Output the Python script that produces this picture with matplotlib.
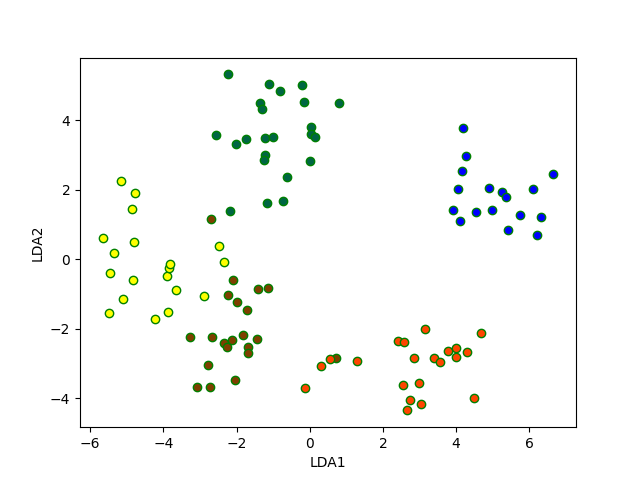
import matplotlib
matplotlib.use('Agg')
import matplotlib.pyplot as plt

# LDA projections, one list pair per class
yellow_x = [-5.16, -4.78, -4.86, -5.66, -4.80, -5.36, -5.45, -4.83, -5.09, -5.47,
            -4.24, -3.87, -3.64, -2.88, -3.89, -3.85, -3.81, -2.48, -2.34]
yellow_y = [2.25, 1.90, 1.45, 0.60, 0.50, 0.18, -0.39, -0.60, -1.14, -1.55,
            -1.73, -1.52, -0.89, -1.06, -0.47, -0.24, -0.14, 0.37, -0.09]

dgreen_x = [-2.24, -1.11, -0.80, -0.21, -0.16, 0.81, -1.35, -1.29, -2.55, -2.01,
            -1.73, -1.22, -1.00, 0.03, 0.03, 0.14, -1.22, -1.24, 0.01, -0.62,
            -1.16, -0.73, -2.18]
dgreen_y = [5.32, 5.03, 4.84, 5.02, 4.54, 4.51, 4.50, 4.31, 3.58, 3.32,
            3.45, 3.50, 3.52, 3.80, 3.60, 3.53, 2.99, 2.87, 2.84, 2.38,
            1.63, 1.68, 1.38]

brown_x = [-2.69, -2.09, -2.23, -2.00, -1.70, -1.40, -1.13, -3.27, -2.67, -2.33,
           -2.26, -2.13, -1.83, -1.44, -1.69, -1.69, -2.77, -2.03, -3.07, -2.73,
           0.72]
brown_y = [1.17, -0.61, -1.04, -1.22, -1.47, -0.85, -0.83, -2.24, -2.24, -2.41,
           -2.52, -2.33, -2.19, -2.29, -2.52, -2.69, -3.03, -3.48, -3.69, -3.67,
           -2.84]

orange_x = [-0.13, 0.31, 0.55, 1.30, 2.41, 2.58, 3.16, 2.85, 2.54, 2.99,
            2.75, 3.03, 2.66, 3.39, 3.55, 3.77, 4.00, 4.00, 4.30, 4.68, 4.48]
orange_y = [-3.71, -3.06, -2.86, -2.94, -2.35, -2.38, -2.01, -2.85, -3.63, -3.57,
            -4.04, -4.18, -4.35, -2.85, -2.97, -2.63, -2.54, -2.82, -2.66, -2.13, -3.99]

blue_x = [4.20, 4.26, 4.16, 4.05, 4.91, 5.25, 5.35, 6.09, 6.66, 3.91,
          4.12, 4.54, 4.98, 5.74, 6.32, 5.42, 6.20]
blue_y = [3.77, 2.96, 2.54, 2.02, 2.05, 1.93, 1.78, 2.02, 2.45, 1.42,
          1.11, 1.36, 1.41, 1.27, 1.22, 0.85, 0.71]

groups = [
    (yellow_x, yellow_y, 'yellow'),
    (dgreen_x, dgreen_y, '#006644'),
    (brown_x, brown_y, '#7f3f00'),
    (orange_x, orange_y, '#ff4500'),
    (blue_x, blue_y, 'blue'),
]

fig, ax = plt.subplots(figsize=(6.4, 4.8), dpi=100)
for xs, ys, col in groups:
    ax.scatter(xs, ys, c=col, edgecolors='green')

ax.set_xlabel('LDA1')
ax.set_ylabel('LDA2')

plt.savefig('out.png')
